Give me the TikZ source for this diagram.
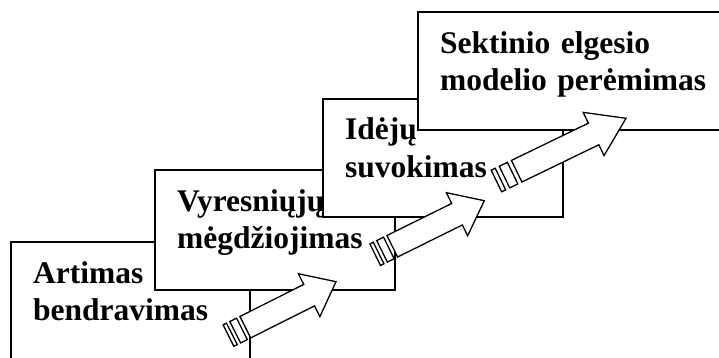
\documentclass[tikz,border=0pt]{standalone}
\usepackage{fontspec}
\setmainfont{Liberation Serif}
\usetikzlibrary{calc}
\tikzset{
  box/.style={draw, line width=1.5pt, fill=white, anchor=north west, inner sep=0pt, outer sep=0pt},
  lbl/.style={anchor=base west, inner sep=0pt, align=left, text width=300pt,
    font=\fontsize{31.5}{37}\selectfont\bfseries},
  arr/.style={draw, line width=1.3pt, fill=white, line join=miter},
}
\newcommand\stripedarrow[2]{%
  \foreach \ua/\ub in {0/0.03125,0.0625/0.125}{%
    \path[arr] ($(#1)!\ua!(#2)!12pt!90:(#2)$) -- ($(#1)!\ub!(#2)!12pt!90:(#2)$)
      -- ($(#1)!\ub!(#2)!12pt!-90:(#2)$) -- ($(#1)!\ua!(#2)!12pt!-90:(#2)$) -- cycle;}
  \path[arr] ($(#1)!0.15625!(#2)!12pt!90:(#2)$) -- ($(#1)!0.75!(#2)!12pt!90:(#2)$)
    -- ($(#1)!0.75!(#2)!24pt!90:(#2)$) -- (#2)
    -- ($(#1)!0.75!(#2)!24pt!-90:(#2)$) -- ($(#1)!0.75!(#2)!12pt!-90:(#2)$)
    -- ($(#1)!0.15625!(#2)!12pt!-90:(#2)$) -- cycle;
}
\begin{document}
\begin{tikzpicture}[x=1pt,y=-1pt]
\useasboundingbox (0,0) rectangle (719,358);
\clip (0,0) rectangle (719,358);
\fill[white] (0,0) rectangle (719,358);
% boxes and texts
\node[box, minimum width=239pt, minimum height=120pt] (b1) at (11,242) {};
\node[lbl] (t1) at ([shift={(22,41)}]b1.north west) {Artimas\\bendravimas};
\node[box, minimum width=240pt, minimum height=120pt] (b2) at (155,170) {};
\node[lbl] (t2) at ([shift={(22,41)}]b2.north west) {Vyresniųjų\\mėgdžiojimas};
\node[box, minimum width=240pt, minimum height=118pt] (b3) at (323,99) {};
\node[lbl] (t3) at ([shift={(22,41)}]b3.north west) {Idėjų\\suvokimas};
\node[box, minimum width=322pt, minimum height=118pt] (b4) at (418,12) {};
\node[lbl] (t4) at ([shift={(22,42)}]b4.north west) {Sektinio elgesio\\modelio perėmimas};
% striped arrows
\coordinate (s1) at (228.5,335.6); \coordinate (e1) at (336,281.7);
\coordinate (s2) at (375.2,254.7); \coordinate (e2) at (484.3,200.7);
\coordinate (s3) at (496.4,181.0); \coordinate (e3) at (626,118.3);
\stripedarrow{s1}{e1}
\stripedarrow{s2}{e2}
\stripedarrow{s3}{e3}
\end{tikzpicture}
\end{document}
